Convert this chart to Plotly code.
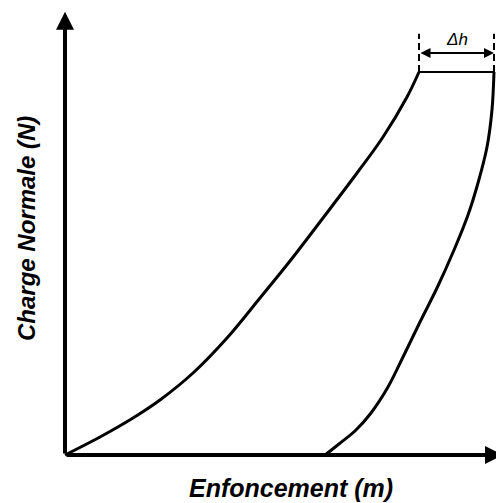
import plotly.graph_objects as go

# ---------------------------------------
# Load / unload curve (normalised units)
# ---------------------------------------
load_depth = [0.0, 0.0816, 0.1585, 0.2214, 0.2984, 0.3776, 0.4545, 0.5245, 0.6014, 0.6807, 0.7413, 0.7972, 0.8252]
load_force = [0.0, 0.0470, 0.0966, 0.1436, 0.2141, 0.3055, 0.4099, 0.5065, 0.6188, 0.7363, 0.8303, 0.9347, 1.0]

hold_depth = [0.8252, 1.0]
hold_force = [1.0, 1.0]

unload_depth = [1.0, 0.9953, 0.9837, 0.9627, 0.9394, 0.9068, 0.8671, 0.8275, 0.7902, 0.7529, 0.7133, 0.6783, 0.6387, 0.6061]
unload_force = [1.0, 0.9008, 0.8042, 0.7102, 0.6266, 0.5352, 0.4360, 0.3473, 0.2611, 0.1775, 0.1097, 0.0653, 0.0287, 0.0]

x_label = "Enfoncement (m)"
y_label = "Charge Normale (N)"
delta_label = "Δh"

line_style = dict(color="black", width=3)

fig = go.Figure()
fig.add_trace(go.Scatter(x=load_depth, y=load_force, mode="lines",
                         line=dict(shape="spline", **line_style)))
fig.add_trace(go.Scatter(x=hold_depth, y=hold_force, mode="lines",
                         line=dict(color="black", width=2)))
fig.add_trace(go.Scatter(x=unload_depth, y=unload_force, mode="lines",
                         line=dict(shape="spline", **line_style)))

# axes drawn as arrows
fig.add_annotation(x=1.021, y=0, ax=0, ay=0, xref="x", yref="y", axref="x", ayref="y",
                   showarrow=True, arrowhead=2, arrowsize=0.9, arrowwidth=4, arrowcolor="black", text="")
fig.add_annotation(x=0, y=1.157, ax=0, ay=0, xref="x", yref="y", axref="x", ayref="y",
                   showarrow=True, arrowhead=2, arrowsize=0.9, arrowwidth=4, arrowcolor="black", text="")

# delta h marker
for xd in hold_depth:
    fig.add_shape(type="line", x0=xd, x1=xd, y0=1.0, y1=1.10, xref="x", yref="y",
                  line=dict(color="black", width=2, dash="7px,4px"))
fig.add_annotation(x=hold_depth[1], y=1.0496, ax=hold_depth[0], ay=1.0496,
                   xref="x", yref="y", axref="x", ayref="y",
                   showarrow=True, arrowhead=2, arrowside="end+start", arrowsize=1,
                   arrowwidth=2, arrowcolor="black", text="")
fig.add_annotation(x=(hold_depth[0] + hold_depth[1]) / 2, y=1.086, xref="x", yref="y",
                   text=delta_label, showarrow=False,
                   font=dict(family="Liberation Sans", size=17, color="black", style="italic"))

# axis titles
fig.add_annotation(x=0.5706, y=0.0303, xref="paper", yref="paper", xanchor="center", yanchor="middle",
                   text="<b><i>" + x_label + "</i></b>", showarrow=False,
                   font=dict(family="Liberation Sans", size=25, color="black"))
fig.add_annotation(x=0.0363, y=0.5535, xref="paper", yref="paper", xanchor="center", yanchor="middle",
                   text="<b><i>" + y_label + "</i></b>", showarrow=False, textangle=-90,
                   font=dict(family="Liberation Sans", size=24, color="black"))

fig.update_layout(
    width=496, height=495,
    margin=dict(l=0, r=0, t=0, b=0),
    paper_bgcolor="white", plot_bgcolor="white",
    showlegend=False,
    xaxis=dict(range=[-0.13287, 1.02331], visible=False, fixedrange=True),
    yaxis=dict(range=[-0.12533, 1.16710], visible=False, fixedrange=True),
)

fig.write_html("out.html")
